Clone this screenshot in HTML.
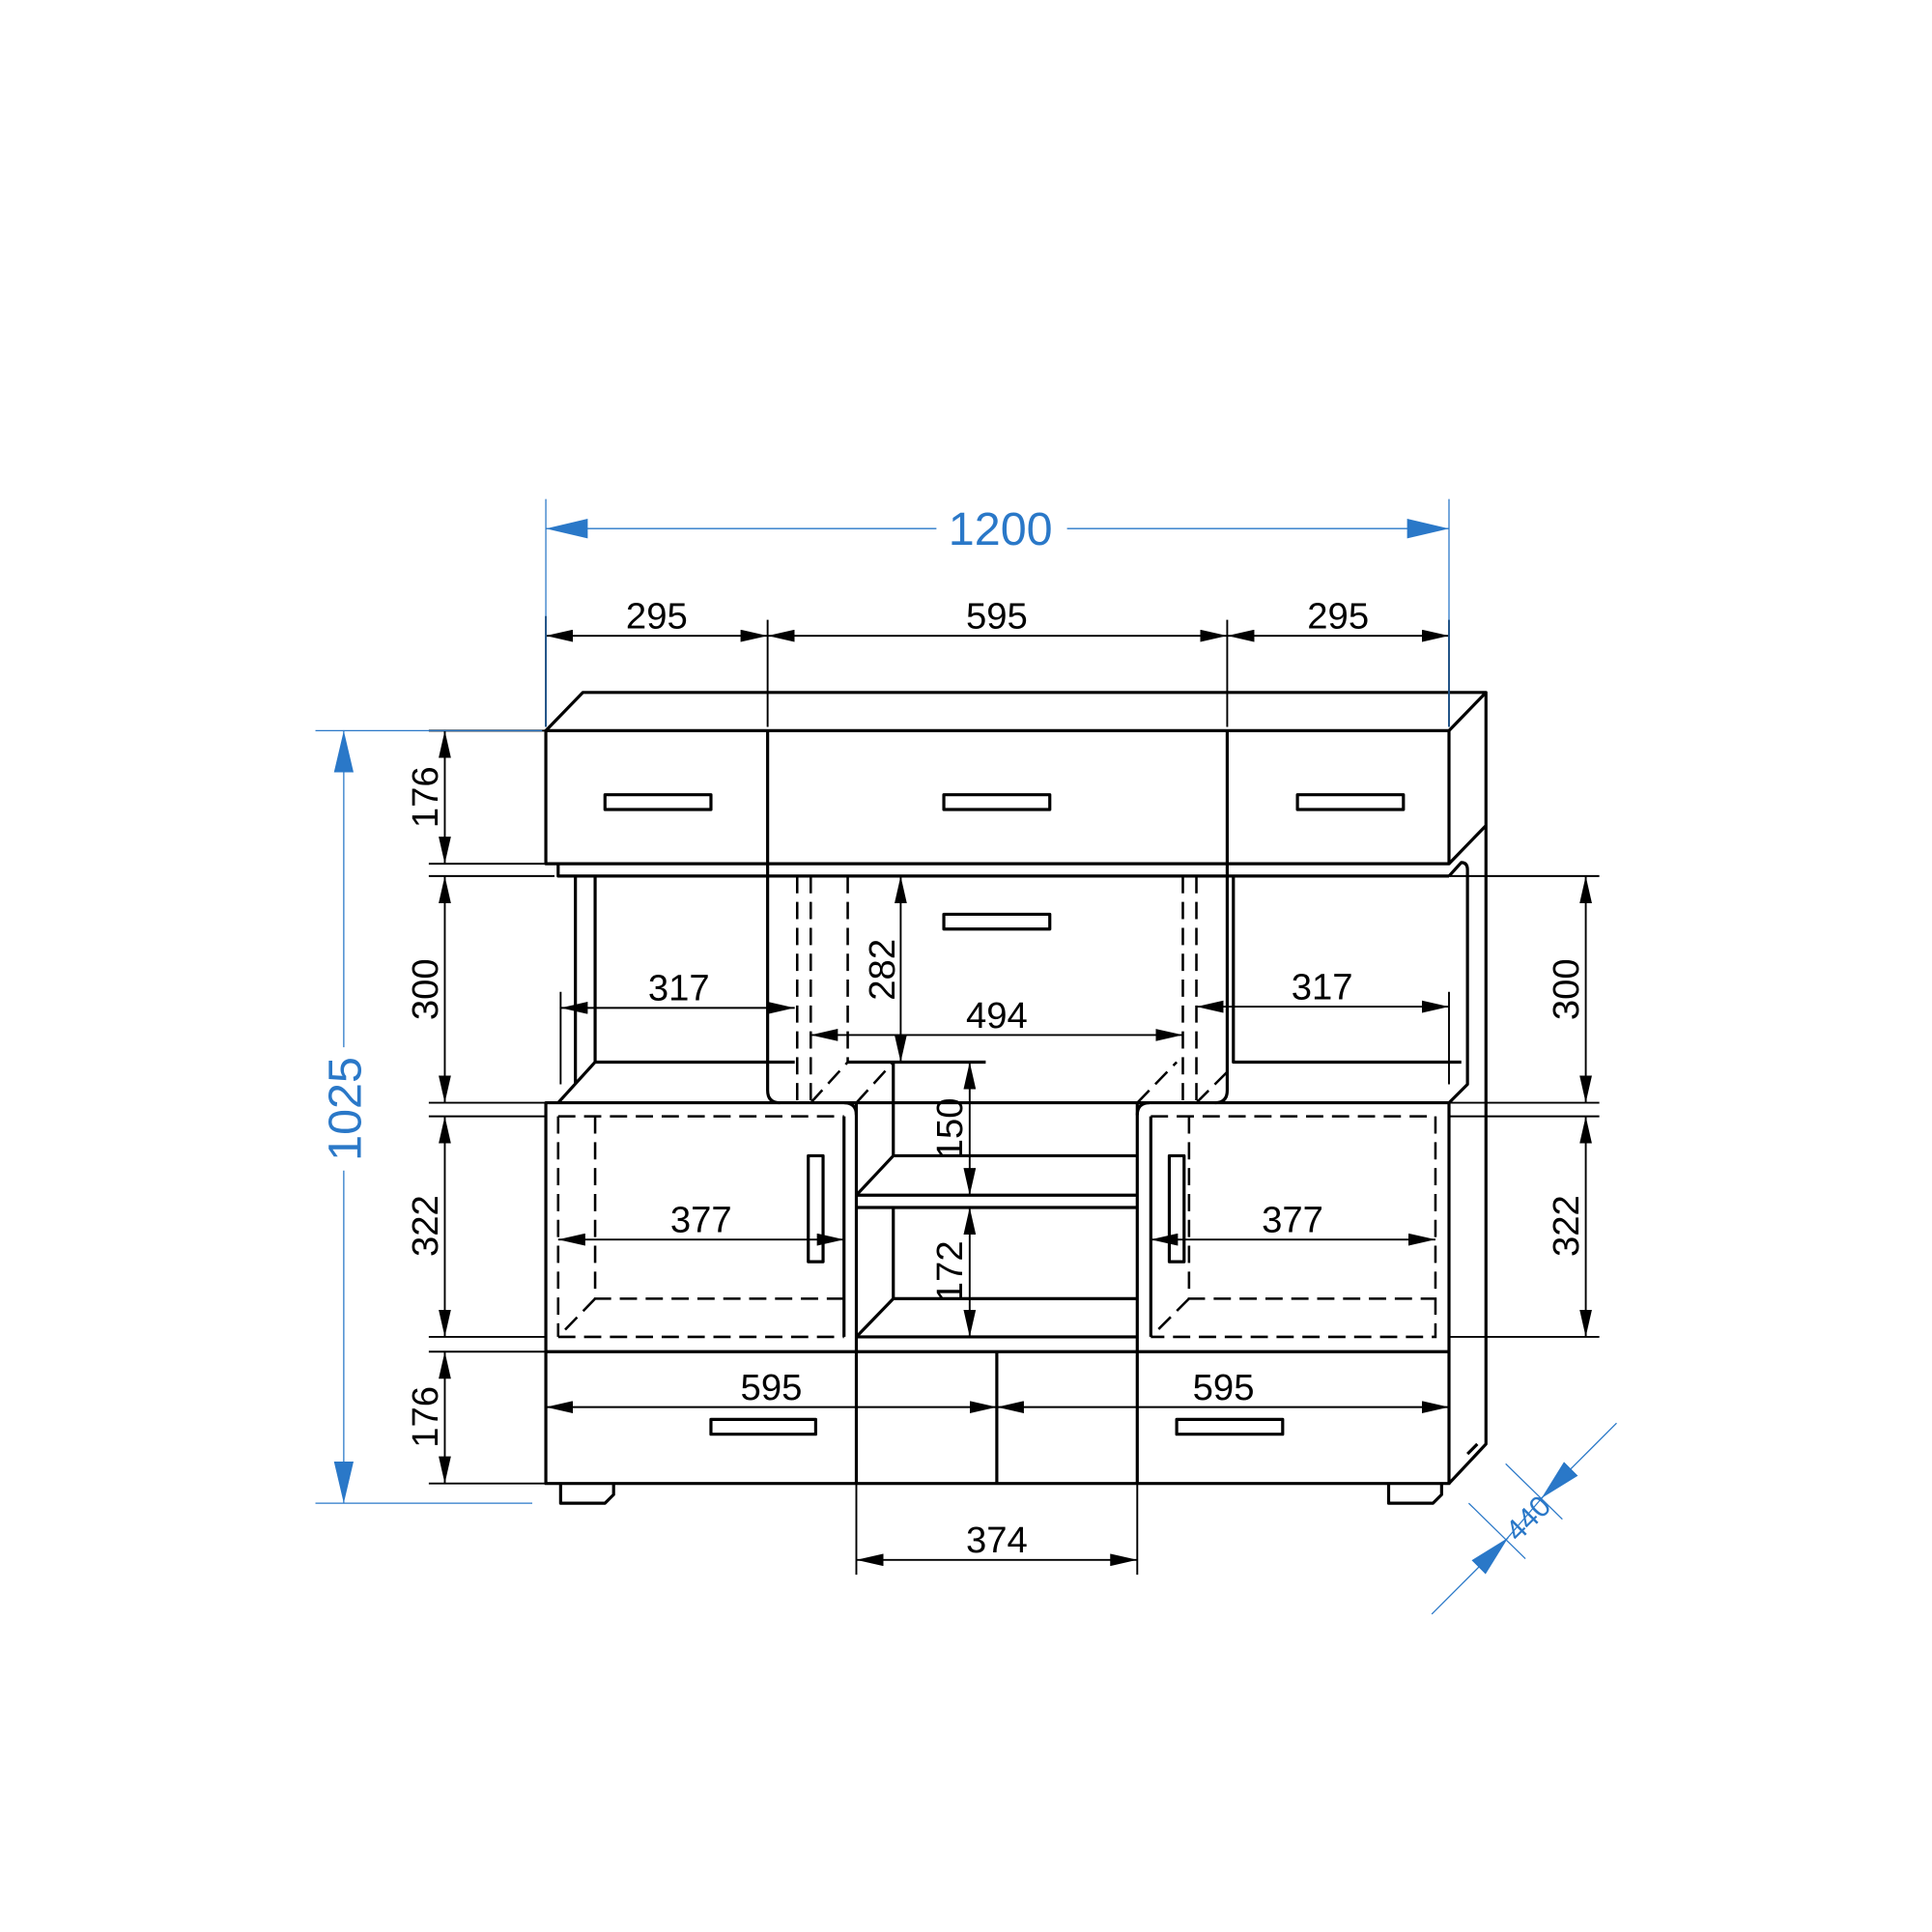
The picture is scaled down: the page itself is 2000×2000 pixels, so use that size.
<!DOCTYPE html>
<html><head><meta charset="utf-8"><style>html,body{margin:0;padding:0;background:#fff}svg{display:block}</style></head>
<body>
<svg width="2000" height="2000" viewBox="0 0 1568 1568" xmlns="http://www.w3.org/2000/svg">
<defs>
<marker id="a" viewBox="0 0 22 10" refX="22" refY="5" markerWidth="22" markerHeight="10" markerUnits="userSpaceOnUse" orient="auto-start-reverse"><path d="M0,0L22,5L0,10z" fill="#000"/></marker>
<marker id="b" viewBox="0 0 34 16" refX="34" refY="8" markerWidth="34" markerHeight="16" markerUnits="userSpaceOnUse" orient="auto-start-reverse"><path d="M0,0L34,8L0,16z" fill="#2a78c8"/></marker>
</defs>
<g fill="none" stroke="#000" stroke-width="2.5" stroke-linejoin="round">
<path d="M443,593L473,562H1206V1172L1176,1204M1176,593L1206,562M1176,701L1206,670"/>
<rect x="443" y="593" width="733" height="108"/>
<path d="M623,593V701M996,593V701"/>
<rect x="491" y="645" width="86" height="12"/><rect x="766" y="645" width="86" height="12"/><rect x="1053" y="645" width="86" height="12"/>
<path d="M453,701V711H1176"/>
<path d="M467,711V880M483,711V862H645M483,862L453,895M623,701V885Q623,895 633,895"/>
<rect x="766" y="742" width="86" height="12"/>
<path d="M688,862H800M1001,711V862H1186M996,701V885Q996,895 986,895M1176,711L1186,700Q1191,700 1191,706V880L1176,895"/>
<path d="M443,895H1176V1204H443ZM443,1097H1176M695,895V1204M923,895V1204M809,1097V1204"/>
<path d="M695,905Q695,895 685,895M923,905Q923,895 933,895"/>
<path d="M725,862V938H923M695,970H923M695,980H923M695,970L725,938M725,980V1054H923M695,1085H923M695,1085L725,1054"/>
<path d="M685,906V1085M934,906V1085"/>
<rect x="656" y="938" width="12" height="86"/><rect x="949" y="938" width="12" height="86"/>
<rect x="577" y="1152" width="85" height="12"/><rect x="955" y="1152" width="86" height="12"/>
<path d="M455,1204V1220H491L498,1213V1204M1127,1204V1220H1163L1170,1213V1204M1191,1180L1199,1172"/>
</g>
<g fill="none" stroke="#000" stroke-width="2" stroke-dasharray="14,7">
<path d="M645,711H960M647,711V895M658,711V895M688,711V862M960,711V895M971,711V895M658,895L688,862M695,895L725,862M923,895L955,862M971,895L996,870"/>
<path d="M453,906H685M453,906V1085M483,906V1054H685M483,1054L453,1085M453,1085H685"/>
<path d="M934,906H1165V1085H934M965,906V1054H1165M965,1054L934,1085"/>
</g>
<g stroke="#000" stroke-width="1.5" fill="none">
<path d="M443,500V590M623,503V590M996,503V590M1176,503V590"/>
<path d="M348,593H443M348,701H450M348,711H450M348,895H443M348,906H443M348,1085H443M348,1097H443M348,1204H443"/>
<path d="M1000,711H1298M1176,895H1298M1176,906H1298M1176,1085H1298"/>
<path d="M695,1204V1278M923,1204V1278M455,805V880M1176,805V880"/>
<g marker-start="url(#a)" marker-end="url(#a)">
<path d="M443,516H623"/><path d="M623,516H996"/><path d="M996,516H1176"/>
<path d="M361,593V701"/><path d="M361,711V895"/><path d="M361,906V1085"/><path d="M361,1097V1204"/>
<path d="M1287,711V895"/><path d="M1287,906V1085"/>
<path d="M455,818H645"/><path d="M971,817H1176"/><path d="M658,840H960"/><path d="M731,711V862"/><path d="M787,862V970"/><path d="M787,980V1085"/>
<path d="M453,1006H685"/><path d="M934,1006H1165"/><path d="M443,1142H809"/><path d="M809,1142H1176"/><path d="M695,1266H923"/>
</g>
</g>
<g font-family="Liberation Sans, sans-serif" font-size="30" fill="#000" text-anchor="middle">
<text x="533" y="510">295</text>
<text x="809" y="510">595</text>
<text x="1086" y="510">295</text>
<text x="551" y="812">317</text>
<text x="1073" y="811">317</text>
<text x="809" y="834">494</text>
<text x="569" y="1000">377</text>
<text x="1049" y="1000">377</text>
<text x="626" y="1136">595</text>
<text x="993" y="1136">595</text>
<text x="809" y="1260">374</text>
<text transform="translate(355,647) rotate(-90)">176</text>
<text transform="translate(355,803) rotate(-90)">300</text>
<text transform="translate(355,995) rotate(-90)">322</text>
<text transform="translate(355,1150) rotate(-90)">176</text>
<text transform="translate(1281,803) rotate(-90)">300</text>
<text transform="translate(1281,995) rotate(-90)">322</text>
<text transform="translate(726,787) rotate(-90)">282</text>
<text transform="translate(781,916) rotate(-90)">150</text>
<text transform="translate(781,1032) rotate(-90)">172</text>
</g>
<g stroke="#2a78c8" stroke-width="1" fill="none">
<path d="M443,405V590M1176,405V590M256,593H440M256,1220H432"/>
<path d="M1192,1220L1238,1265M1222,1188L1268,1233M1222,1250L1252,1215"/>
<path d="M443,429H760" marker-start="url(#b)"/><path d="M866,429H1176" marker-end="url(#b)"/>
<path d="M279,593V850" marker-start="url(#b)"/><path d="M279,950V1220" marker-end="url(#b)"/>
<path d="M1162,1310L1224,1248" marker-end="url(#b)"/>
<path d="M1312,1155L1251,1216" marker-end="url(#b)"/>
</g>
<g font-family="Liberation Sans, sans-serif" fill="#2a78c8" text-anchor="middle">
<text x="812" y="442" font-size="38">1200</text>
<text transform="translate(293,900) rotate(-90)" font-size="38">1025</text>
<text transform="translate(1246,1238) rotate(-45)" font-size="24">440</text>
</g>
</svg>
</body></html>
